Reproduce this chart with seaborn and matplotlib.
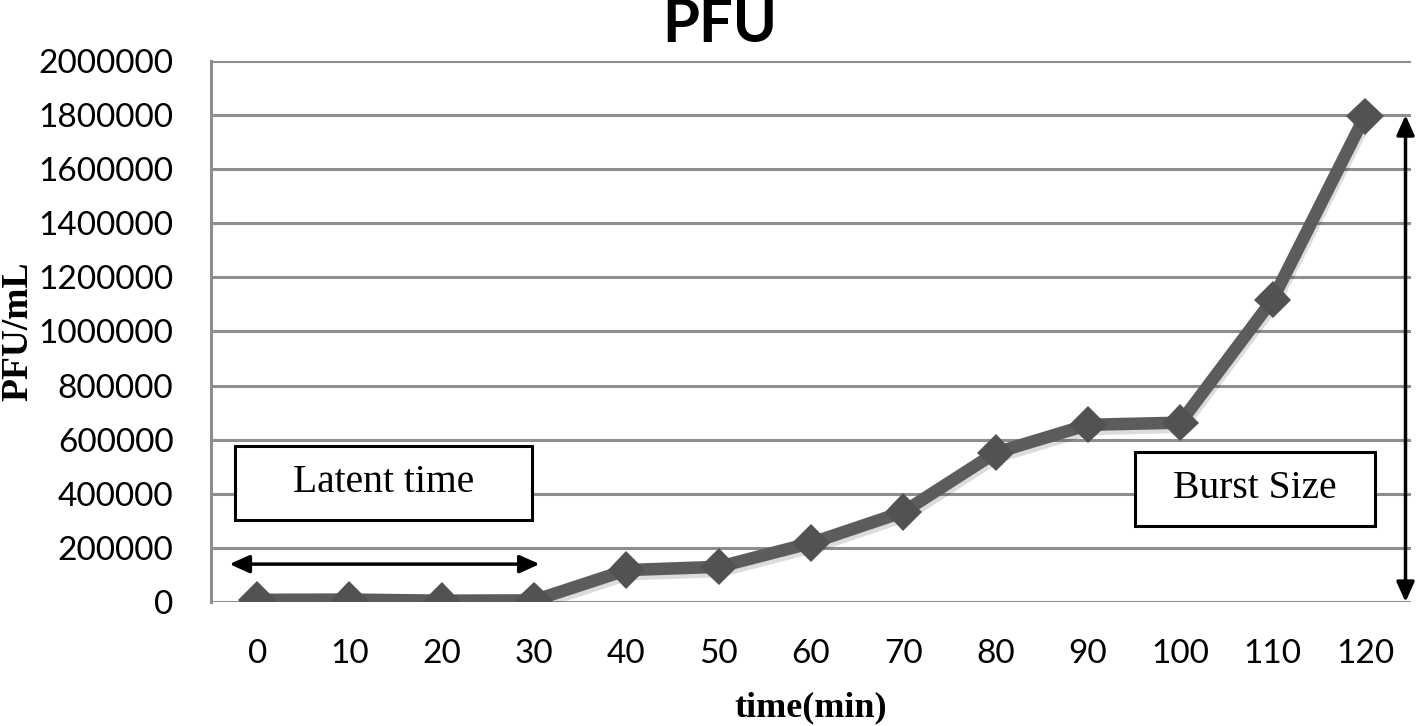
import seaborn as sns
import matplotlib.pyplot as plt
import matplotlib.patheffects as pe
from matplotlib.patches import Rectangle
import pandas as pd

# data
times = [0, 10, 20, 30, 40, 50, 60, 70, 80, 90, 100, 110, 120]
pfu = [8000, 9000, 5000, 6000, 118000, 130000, 218000, 333000, 552000, 655000, 663000, 1118000, 1796000]
y_ticks = list(range(0, 2000001, 200000))

df = pd.DataFrame({'time': times, 'pfu': pfu})

sns.set_theme(style="white")
plt.rcParams['font.family'] = ['Lato', 'DejaVu Sans']
plt.rcParams['text.color'] = 'black'
plt.rcParams['axes.labelcolor'] = 'black'

fig = plt.figure(figsize=(14.17, 7.26), dpi=100)
ax = fig.add_axes([0.1489, 0.1708, 0.8469, 0.7452])

grid_col = '#8e8e8e'
for yv in y_ticks:
    ax.axhline(yv, color=grid_col, lw=2.2, zorder=1)

# main line
sns.lineplot(data=df, x='time', y='pfu', ax=ax, color='#5c5c5c', lw=9,
             marker='D', markersize=19, markeredgewidth=0,
             markerfacecolor='#525252', zorder=3)
ax.lines[-1].set_path_effects([pe.SimpleLineShadow(offset=(1, -3), shadow_color='k', alpha=0.15),
                               pe.Normal()])

ax.set_xlim(-5, 125)
ax.set_ylim(0, 2000000)
ax.set_xticks(times)
ax.set_xticklabels([str(t) for t in times])
ax.set_yticks(y_ticks)
ax.set_yticklabels([str(v) for v in y_ticks])
ax.tick_params(axis='x', labelsize=24, pad=27, length=0, colors='black')
ax.tick_params(axis='y', labelsize=24, pad=27, length=0, colors='black')

for s in ['top', 'right', 'bottom']:
    ax.spines[s].set_visible(False)
ax.spines['left'].set_color(grid_col)
ax.spines['left'].set_linewidth(2.2)

ax.set_xlabel('time(min)', fontsize=26, fontweight='bold', family='Liberation Serif', labelpad=16)
ax.set_ylabel('PFU/mL', fontsize=27, fontweight='bold', family='Liberation Serif')
ax.yaxis.set_label_coords(-0.146, 0.5)
fig.text(0.508, 1 - 42 / 726, 'PFU', ha='center', va='baseline', fontsize=43, fontweight='bold')

# annotation boxes
ax.add_patch(Rectangle((-2.4, 304000), 32.2, 274000, fill=True, facecolor='white',
                       edgecolor='black', lw=2.2, zorder=4, clip_on=False))
ax.text(13.7, 441000, 'Latent time', ha='center', va='center', fontsize=28.5,
        family='Liberation Serif', zorder=5)
ax.add_patch(Rectangle((95.1, 281500), 26.0, 274000, fill=True, facecolor='white',
                       edgecolor='black', lw=2.2, zorder=4, clip_on=False))
ax.text(108.1, 418500, 'Burst Size', ha='center', va='center', fontsize=28.5,
        family='Liberation Serif', zorder=5)

# arrows
ax.annotate('', xy=(30.6, 140000), xytext=(-3.0, 140000),
            arrowprops=dict(arrowstyle='<|-|>,head_length=1.0,head_width=0.45',
                            color='black', lw=2.5, shrinkA=0, shrinkB=0),
            annotation_clip=False, zorder=5)
ax.annotate('', xy=(124.4, 0), xytext=(124.4, 1800000),
            arrowprops=dict(arrowstyle='<|-|>,head_length=1.0,head_width=0.45',
                            color='black', lw=2.5, shrinkA=0, shrinkB=0),
            annotation_clip=False, zorder=5)

fig.savefig('out.png', dpi=100)
plt.close()
